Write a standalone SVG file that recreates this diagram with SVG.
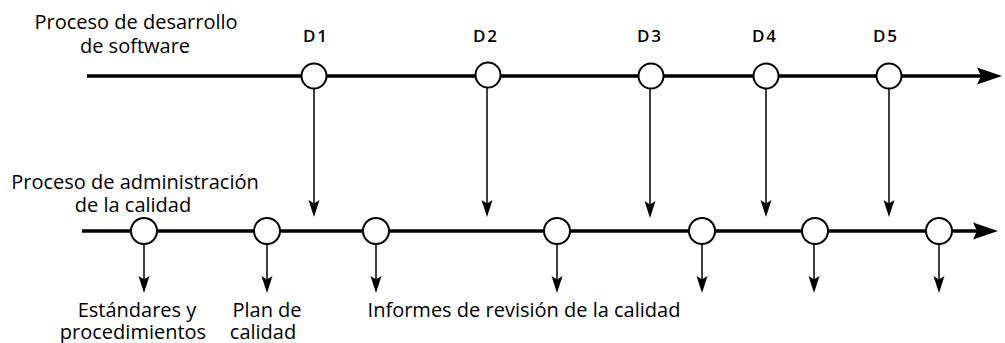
<svg xmlns="http://www.w3.org/2000/svg" width="1005" height="343" viewBox="0 0 1005 343">
<style>
text{font-family:"Open Sans","Noto Sans","Liberation Sans",sans-serif;fill:#000;text-anchor:middle}
.lbl{font-size:20px}
.d{font-size:17px;font-weight:600;letter-spacing:2px}
.main{stroke:#000;stroke-width:3.5;fill:none}
.thin{stroke:#000;stroke-width:1.5;fill:none}
.node{fill:#fff;stroke:#000;stroke-width:2}
</style>
<defs>
<marker id="bigArrow" markerUnits="userSpaceOnUse" viewBox="-26 -10 28 20" refX="-12" refY="0" markerWidth="28" markerHeight="20" orient="auto">
<path d="M0,0 L-25,-8.5 L-21,0 L-25,8.5 Z" fill="#000"/>
</marker>
<marker id="smallArrow" markerUnits="userSpaceOnUse" viewBox="-18 -7 20 14" refX="-6" refY="0" markerWidth="20" markerHeight="14" orient="auto">
<path d="M0,0 L-17,-5.5 L-13.5,0 L-17,5.5 Z" fill="#000"/>
</marker>
</defs>
<g id="connectors">
<line class="main" x1="87" y1="76" x2="990" y2="76" marker-end="url(#bigArrow)"/>
<line class="main" x1="82" y1="231" x2="986" y2="231" marker-end="url(#bigArrow)"/>
<line class="thin" x1="314" y1="88" x2="314" y2="211" marker-end="url(#smallArrow)"/>
<line class="thin" x1="487" y1="87" x2="487" y2="211" marker-end="url(#smallArrow)"/>
<line class="thin" x1="650" y1="88" x2="650" y2="212" marker-end="url(#smallArrow)"/>
<line class="thin" x1="766" y1="88" x2="766" y2="211" marker-end="url(#smallArrow)"/>
<line class="thin" x1="889" y1="88" x2="889" y2="211" marker-end="url(#smallArrow)"/>
<line class="thin" x1="144" y1="244" x2="144" y2="287" marker-end="url(#smallArrow)"/>
<line class="thin" x1="267" y1="244" x2="267" y2="287" marker-end="url(#smallArrow)"/>
<line class="thin" x1="376" y1="244" x2="376" y2="287" marker-end="url(#smallArrow)"/>
<line class="thin" x1="557" y1="244" x2="557" y2="287" marker-end="url(#smallArrow)"/>
<line class="thin" x1="702" y1="244" x2="702" y2="287" marker-end="url(#smallArrow)"/>
<line class="thin" x1="814" y1="244" x2="814" y2="287" marker-end="url(#smallArrow)"/>
<line class="thin" x1="939" y1="244" x2="939" y2="287" marker-end="url(#smallArrow)"/>
</g>
<g id="label-dev"><text class="lbl" x="136" y="29">Proceso de desarrollo</text><text class="lbl" x="135" y="53">de software</text></g>
<g id="label-qm"><text class="lbl" x="135" y="189">Proceso de administración</text><text class="lbl" x="133" y="212">de la calidad</text></g>
<g id="D1"><circle class="node" cx="314" cy="76" r="12.5"/><text class="d" x="316" y="42">D1</text></g>
<g id="D2"><circle class="node" cx="488" cy="75" r="12.5"/><text class="d" x="486" y="42">D2</text></g>
<g id="D3"><circle class="node" cx="651" cy="76" r="12.5"/><text class="d" x="650" y="42">D3</text></g>
<g id="D4"><circle class="node" cx="766" cy="76" r="12.5"/><text class="d" x="765" y="42">D4</text></g>
<g id="D5"><circle class="node" cx="889" cy="76" r="12.5"/><text class="d" x="886" y="42">D5</text></g>
<g id="Q1"><circle class="node" cx="144" cy="231" r="13"/></g>
<g id="Q2"><circle class="node" cx="267" cy="231" r="13"/></g>
<g id="Q3"><circle class="node" cx="376" cy="231" r="13"/></g>
<g id="Q4"><circle class="node" cx="557" cy="231" r="13"/></g>
<g id="Q5"><circle class="node" cx="702" cy="231" r="13"/></g>
<g id="Q6"><circle class="node" cx="815" cy="231" r="13"/></g>
<g id="Q7"><circle class="node" cx="939" cy="231" r="13"/></g>
<g id="out-standards"><text class="lbl" x="137" y="317">Estándares y</text><text class="lbl" x="133" y="339">procedimientos</text></g>
<g id="out-plan"><text class="lbl" x="267" y="317">Plan de</text><text class="lbl" x="263" y="339">calidad</text></g>
<g id="out-reports"><text class="lbl" x="524" y="317">Informes de revisión de la calidad</text></g>
</svg>
